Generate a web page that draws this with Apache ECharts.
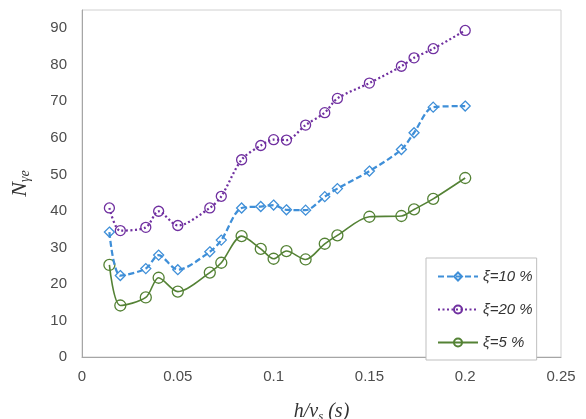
<!DOCTYPE html>
<html>
<head>
<meta charset="utf-8">
<script src="https://cdn.jsdelivr.net/npm/echarts@6/dist/echarts.min.js"></script>
<style>
  html, body { margin: 0; padding: 0; background: #ffffff; }
  #chart { width: 586px; height: 419px; }
</style>
</head>
<body>
<div id="chart"></div>
<script>
// h/v_s values (s) shared by all three damping ratios
const hOverVs = [0.0143, 0.02, 0.0333, 0.04, 0.05, 0.0667, 0.0727, 0.0833, 0.0933, 0.1,
                 0.1067, 0.1167, 0.1267, 0.1333, 0.15, 0.1667, 0.1733, 0.1833, 0.2];

// N_γe for each damping ratio
const xi10 = [34.2, 22.3, 24.2, 27.9, 23.9, 28.8, 32.0, 40.8, 41.2, 41.6,
              40.3, 40.2, 43.9, 46.1, 50.9, 56.8, 61.4, 68.4, 68.7];
const xi20 = [40.8, 34.6, 35.5, 39.9, 36.0, 40.8, 44.0, 54.0, 57.9, 59.5,
              59.4, 63.5, 66.9, 70.8, 75.0, 79.6, 81.9, 84.4, 89.4];
const xi5  = [25.2, 14.1, 16.3, 21.7, 17.9, 23.1, 25.8, 33.1, 29.6, 26.9,
              29.0, 26.7, 31.0, 33.3, 38.4, 38.6, 40.4, 43.3, 49.0];

const seriesNames = ['ξ=10 %', 'ξ=20 %', 'ξ=5 %'];

const pairs = (ys) => hOverVs.map((x, i) => [x, ys[i]]);

const labelFont = { color: '#4d4d4d', fontSize: 15, fontFamily: 'Liberation Sans, Arial, sans-serif' };
const serifItalic = { fontFamily: 'Liberation Serif, Times New Roman, serif', fontStyle: 'italic', color: '#333333' };

const chart = echarts.init(document.getElementById('chart'), null, { renderer: 'canvas' });

chart.setOption({
  animation: false,
  backgroundColor: '#ffffff',
  grid: {
    left: 82, right: 25, top: 10, bottom: 62,
    outerBoundsMode: 'none',
    containLabel: false,
    show: true, borderColor: '#d0d0d0', borderWidth: 1
  },
  legend: {
    orient: 'vertical',
    left: 426, top: 258,
    padding: [11, 4, 10, 11],
    itemGap: 18,
    itemWidth: 40, itemHeight: 10,
    backgroundColor: '#ffffff',
    borderColor: '#bfbfbf', borderWidth: 1,
    textStyle: { fontSize: 15, fontStyle: 'italic', color: '#333333', fontFamily: 'Liberation Sans, Arial, sans-serif' },
    data: seriesNames
  },
  xAxis: {
    type: 'value',
    min: 0, max: 0.25, interval: 0.05,
    axisLine: { show: true, lineStyle: { color: '#a6a6a6' } },
    axisTick: { show: false },
    splitLine: { show: false },
    axisLabel: { ...labelFont, margin: 12 },
    name: '{i|h/v}{s|s}{i| (s)}',
    nameLocation: 'middle',
    nameGap: 44,
    nameTextStyle: {
      rich: {
        i: { ...serifItalic, fontSize: 20 },
        s: { ...serifItalic, fontSize: 13, padding: [9, 0, 0, 0] }
      }
    }
  },
  yAxis: {
    type: 'value',
    min: 0, max: 95, interval: 10,
    axisLine: { show: true, lineStyle: { color: '#a6a6a6' } },
    axisTick: { show: false },
    splitLine: { show: false },
    axisLabel: { ...labelFont, margin: 15, showMaxLabel: false },
    name: '{n|N}{s|γe}',
    nameLocation: 'middle',
    nameRotate: 90,
    nameGap: 50,
    nameTextStyle: {
      rich: {
        n: { ...serifItalic, fontSize: 22 },
        s: { ...serifItalic, fontSize: 14, padding: [10, 0, 0, 0] }
      }
    }
  },
  series: [
    {
      name: seriesNames[0],
      type: 'line',
      data: pairs(xi10),
      smooth: 0.3,
      symbol: 'diamond',
      symbolSize: 10,
      lineStyle: { color: '#3f8fd8', width: 2.25, type: [6, 3] },
      itemStyle: { color: 'rgba(255,255,255,0)', borderColor: '#3f8fd8', borderWidth: 1.3 },
      z: 3
    },
    {
      name: seriesNames[1],
      type: 'line',
      data: pairs(xi20),
      smooth: 0.3,
      symbol: 'circle',
      symbolSize: 10,
      lineStyle: { color: '#7030a0', width: 2.25, type: [2, 2.5] },
      itemStyle: { color: 'rgba(255,255,255,0)', borderColor: '#7030a0', borderWidth: 1.3 },
      z: 2
    },
    {
      name: seriesNames[2],
      type: 'line',
      data: pairs(xi5),
      smooth: 0.3,
      symbol: 'circle',
      symbolSize: 11,
      lineStyle: { color: '#548235', width: 1.6 },
      itemStyle: { color: 'rgba(255,255,255,0)', borderColor: '#548235', borderWidth: 1.3 },
      z: 2
    }
  ]
});
</script>
</body>
</html>
